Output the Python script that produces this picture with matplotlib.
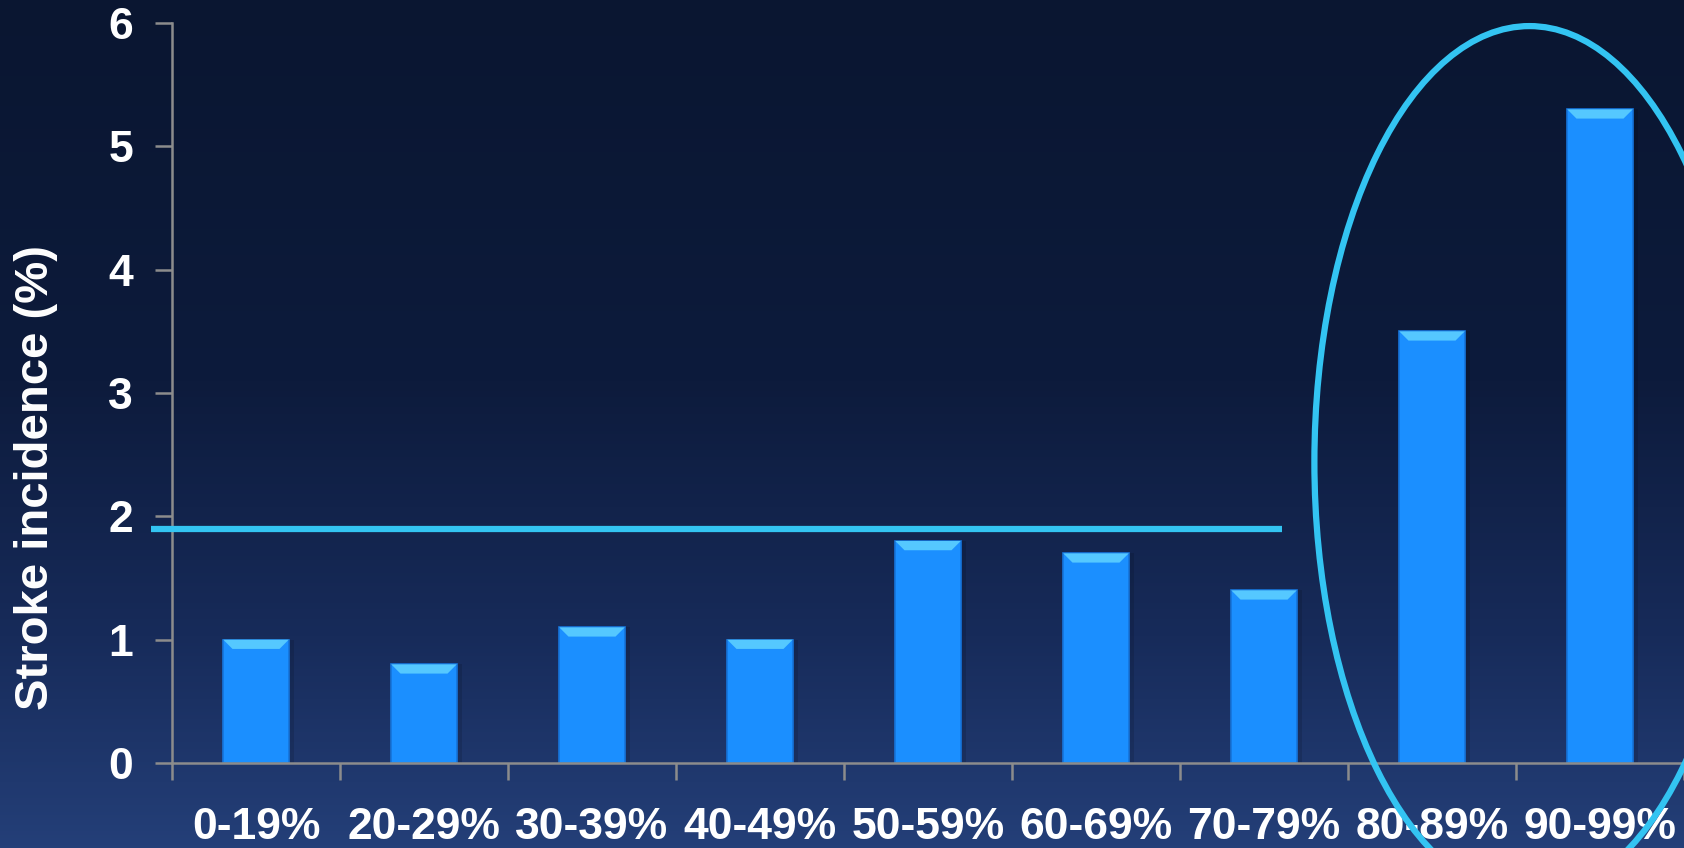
import matplotlib.pyplot as plt
import numpy as np
from matplotlib.patches import Ellipse, Polygon
from matplotlib.colors import LinearSegmentedColormap

plt.rcParams['font.family'] = ['Liberation Sans', 'DejaVu Sans']
plt.rcParams['font.weight'] = 'bold'

categorias = ['0-19%', '20-29%', '30-39%', '40-49%', '50-59%',
              '60-69%', '70-79%', '80-89%', '90-99%']
incidencia = [1.0, 0.8, 1.1, 1.0, 1.8, 1.7, 1.4, 3.5, 5.3]
promedio = 1.9

COLOR_BARRA = '#1b8fff'
COLOR_BISEL = '#55c8ff'
COLOR_CIAN = '#33c4f2'
COLOR_EJE = '#8c8c8c'

fig = plt.figure(figsize=(16.84, 8.48), dpi=100)

# fondo degradado azul oscuro
fondo = fig.add_axes([0, 0, 1, 1], zorder=-10)
cmap = LinearSegmentedColormap.from_list(
    'fondo', [(0.0, '#0a1631'), (0.45, '#0d1b3c'), (0.75, '#172b5a'), (1.0, '#243f78')])
grad = np.linspace(0, 1, 256).reshape(-1, 1)
fondo.imshow(grad, aspect='auto', cmap=cmap, extent=[0, 1, 1, 0])
fondo.set_axis_off()

ax = fig.add_axes([172 / 1684, 1 - 763 / 848, 1 - 172 / 1684, (763 - 23) / 848])
ax.set_facecolor('none')

x = np.arange(len(categorias))
ancho = 0.39

# sombra suave detras de cada barra
ax.bar(x + 0.015, incidencia, width=ancho + 0.03, color='black', alpha=0.12,
       zorder=1, linewidth=0)
barras = ax.bar(x, incidencia, width=ancho, color=COLOR_BARRA,
                edgecolor='#1674da', linewidth=1.2, zorder=2)

# bisel claro en la parte superior
alto_bisel = 0.075
margen = 0.055
for xi, v in zip(x, incidencia):
    izq, der = xi - ancho / 2, xi + ancho / 2
    pts = [(izq, v), (der, v), (der - margen, v - alto_bisel), (izq + margen, v - alto_bisel)]
    ax.add_patch(Polygon(pts, closed=True, color=COLOR_BISEL, zorder=3, linewidth=0))

# linea de referencia
ax.plot([-0.625, 6.11], [promedio, promedio], color=COLOR_CIAN, lw=4.5,
        solid_capstyle='butt', zorder=4, clip_on=False)

# elipse resaltando los dos ultimos grupos
ax.add_patch(Ellipse((7.58, 2.44), 2.56, 7.07, fill=False, edgecolor=COLOR_CIAN,
                     lw=4.5, zorder=5, clip_on=False))

ax.set_xlim(-0.5, len(categorias) - 0.5)
ax.set_ylim(0, 6)

ax.set_xticks(np.arange(len(categorias) + 1) - 0.5)
ax.set_xticklabels([])
ax.set_xticks(x, minor=True)
ax.set_xticklabels(categorias, minor=True)
ax.tick_params(axis='x', which='minor', length=0, pad=32, labelsize=32,
               labelcolor='white')
ax.tick_params(axis='x', which='major', length=12, width=1.8, color=COLOR_EJE,
               direction='out')

ax.set_yticks(range(0, 7))
ax.tick_params(axis='y', length=12, width=1.8, color=COLOR_EJE, direction='out',
               pad=16, labelsize=32, labelcolor='white')
for lbl in ax.get_xticklabels(minor=True) + ax.get_yticklabels():
    lbl.set_fontweight('bold')

for lado in ['top', 'right']:
    ax.spines[lado].set_visible(False)
for lado in ['left', 'bottom']:
    ax.spines[lado].set_color(COLOR_EJE)
    ax.spines[lado].set_linewidth(1.8)

fig.text(36 / 1684, 1 - 478 / 848, 'Stroke incidence (%)', rotation=90,
         ha='center', va='center', color='white', fontsize=34, fontweight='bold')

fig.savefig('out.png', dpi=100)
